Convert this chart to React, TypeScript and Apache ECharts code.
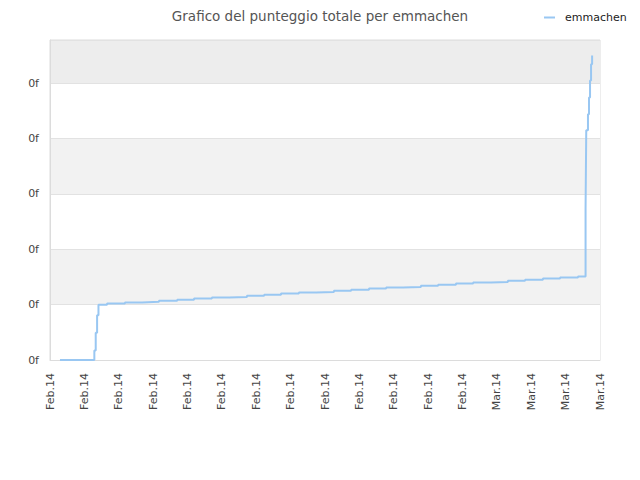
import React, { useEffect, useRef } from 'react';
import * as echarts from 'echarts';

const title = 'Grafico del punteggio totale per emmachen';
const seriesName = 'emmachen';

// x-axis tick labels (17 ticks, index 0..16)
const xLabels = [
  'Feb.14', 'Feb.14', 'Feb.14', 'Feb.14', 'Feb.14', 'Feb.14', 'Feb.14', 'Feb.14', 'Feb.14',
  'Feb.14', 'Feb.14', 'Feb.14', 'Feb.14', 'Mar.14', 'Mar.14', 'Mar.14', 'Mar.14',
];

// step points: x position (in tick units) where the score changes, and new value
const stepX = [
  0.29, 1.29, 1.33, 1.37, 1.41,
  1.66, 2.18, 2.68, 3.17, 3.70, 4.19, 4.71, 5.21, 5.73, 6.23,
  6.72, 7.24, 7.74, 8.26, 8.76, 9.28, 9.78, 10.27, 10.79, 11.29,
  11.81, 12.31, 12.83, 13.32, 13.82, 14.34, 14.84, 15.36,
  15.58, 15.60, 15.65, 15.68, 15.71, 15.74, 15.77,
];
const stepY = [
  0, 0.17, 0.49, 0.81, 1.0,
  1.02, 1.04, 1.05, 1.07, 1.09, 1.11, 1.13, 1.14, 1.16, 1.18,
  1.20, 1.22, 1.23, 1.25, 1.27, 1.29, 1.31, 1.32, 1.34, 1.36,
  1.38, 1.40, 1.41, 1.43, 1.45, 1.47, 1.49, 1.51,
  2.74, 4.15, 4.44, 4.74, 5.05, 5.34, 5.5,
];

const font = 'DejaVu Sans';

export default function App() {
  const ref = useRef<HTMLDivElement>(null);

  useEffect(() => {
    document.body.style.margin = '0';
    if (!ref.current) return;
    const chart = echarts.init(ref.current, null, { renderer: 'svg' });
    chart.setOption({
      animation: false,
      backgroundColor: '#ffffff',
      title: {
        text: title,
        left: 'center',
        top: 4,
        textStyle: { fontFamily: font, fontSize: 13.5, fontWeight: 'normal', color: '#555555' },
      },
      legend: {
        left: 539,
        top: 7,
        icon: 'rect',
        itemWidth: 11,
        itemHeight: 2,
        textStyle: { fontFamily: font, fontSize: 11, color: '#222222', padding: [0, 0, 0, 5] },
        data: [seriesName],
      },
      grid: {
        left: 50,
        right: 40,
        top: 40,
        bottom: 120,
        show: true,
        borderColor: '#dcdcdc',
        borderWidth: 1,
        backgroundColor: 'transparent',
      },
      xAxis: {
        type: 'value',
        min: 0,
        max: 16,
        interval: 1,
        axisLine: { show: true, lineStyle: { color: '#dcdcdc' } },
        axisTick: { show: false },
        splitLine: { show: false },
        axisLabel: {
          rotate: 90,
          margin: 13,
          fontFamily: font,
          fontSize: 11,
          color: '#444444',
          formatter: (v: number) => xLabels[Math.round(v)] ?? '',
        },
      },
      yAxis: {
        type: 'value',
        min: 0,
        max: 5.78,
        interval: 1,
        axisLine: { show: true, lineStyle: { color: '#dcdcdc' } },
        axisTick: { show: false },
        splitLine: { show: true, lineStyle: { color: '#e2e2e2' } },
        splitArea: {
          show: true,
          areaStyle: { color: ['#ffffff', '#f2f2f2', '#ffffff', '#f2f2f2', '#ffffff', '#ededed'] },
        },
        axisLabel: {
          showMaxLabel: false,
          margin: 11,
          fontFamily: font,
          fontSize: 11,
          color: '#444444',
          formatter: () => '0f',
        },
      },
      series: [
        {
          name: seriesName,
          type: 'line',
          step: 'end',
          showSymbol: false,
          symbol: 'none',
          lineStyle: { color: '#99c7f2', width: 2 },
          itemStyle: { color: '#99c7f2' },
          data: stepX.map((x, i) => [x, stepY[i]]),
        },
      ],
    });
    return () => chart.dispose();
  }, []);

  return <div ref={ref} style={{ width: 640, height: 480 }} />;
}
